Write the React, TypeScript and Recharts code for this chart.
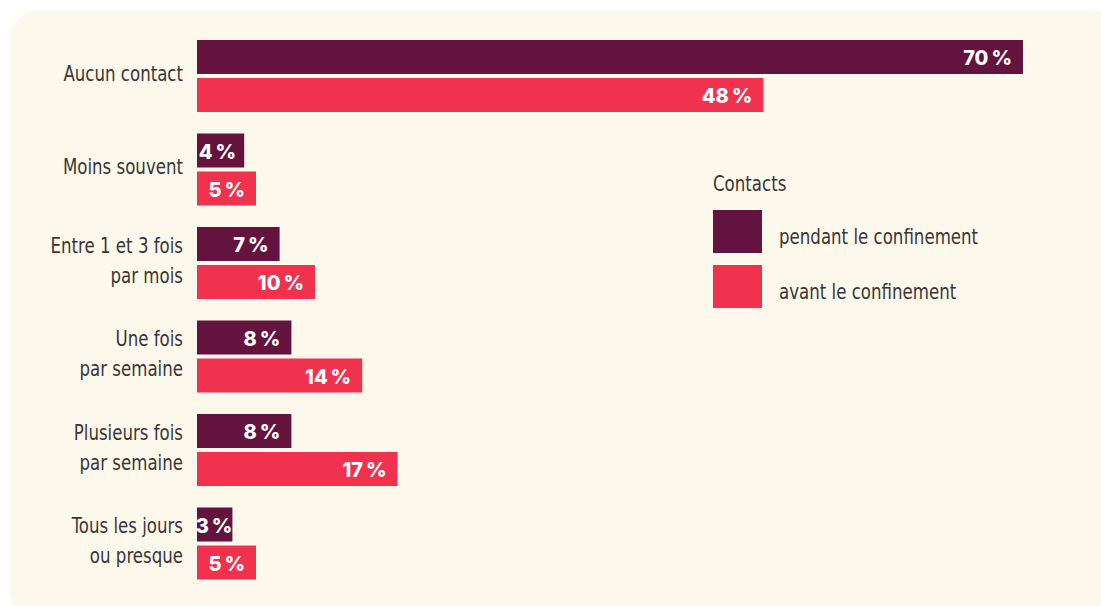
import { BarChart, Bar, XAxis, YAxis, LabelList } from 'recharts'

const categories = [
  'Aucun contact',
  'Moins souvent',
  'Entre 1 et 3 fois\npar mois',
  'Une fois\npar semaine',
  'Plusieurs fois\npar semaine',
  'Tous les jours\nou presque',
]
const pendant = [70, 4, 7, 8, 8, 3]
const avant = [48, 5, 10, 14, 17, 5]

const SERIES_LABEL = {
  pendant: 'pendant le confinement',
  avant: 'avant le confinement',
}
const LEGEND_TITLE = 'Contacts'

const DARK = '#63133d'
const PINK = '#f0324f'
const CREAM = '#fdf8ec'
const TEXT = '#3b3637'
const LABEL_FONT = '"Liberation Sans Narrow", "DejaVu Sans Condensed", sans-serif'
const VALUE_FONT = 'Inter, "Open Sans", sans-serif'
const SQUEEZE = 0.88

const data = categories.map((name, i) => ({ name, pendant: pendant[i], avant: avant[i] }))

function CategoryTick(props: any) {
  const { x, y, payload } = props
  const lines = String(payload.value).split('\n')
  const lh = 30
  const y0 = -((lines.length - 1) * lh) / 2 - 2
  return (
    <g transform={`translate(${x},${y}) scale(${SQUEEZE},1)`}>
      <text x={0} y={y0} textAnchor="end" fill={TEXT} fontFamily={LABEL_FONT} fontSize={21}>
        {lines.map((l, i) => (
          <tspan key={i} x={0} y={y0 + i * lh} dominantBaseline="central">
            {l}
          </tspan>
        ))}
      </text>
    </g>
  )
}

function ValueLabel(props: any) {
  const { x, y, width, height, value } = props
  const textW = String(value).length > 1 ? 48 : 36
  const pad = Math.max(0, Math.min(11, width - textW - 3))
  return (
    <text
      x={x + width - pad}
      y={y + height / 2 + 1}
      textAnchor="end"
      dominantBaseline="central"
      fill="#fff"
      fontFamily={VALUE_FONT}
      fontWeight={800}
      fontSize={20}
    >
      {`${value}\u202F%`}
    </text>
  )
}

function LegendBox() {
  const items = [
    { label: SERIES_LABEL.pendant, color: DARK },
    { label: SERIES_LABEL.avant, color: PINK },
  ]
  return (
    <div style={{ fontFamily: LABEL_FONT, color: TEXT, fontSize: 21 }}>
      <div
        style={{
          height: 28,
          lineHeight: '28px',
          marginBottom: 12,
          transform: `scaleX(${SQUEEZE})`,
          transformOrigin: 'left center',
        }}
      >
        {LEGEND_TITLE}
      </div>
      {items.map((it) => (
        <div key={it.label} style={{ display: 'flex', alignItems: 'center', height: 43, marginBottom: 12 }}>
          <div style={{ width: 49, height: 43, background: it.color, flexShrink: 0 }} />
          <div
            style={{
              marginLeft: 17,
              paddingTop: 10,
              whiteSpace: 'nowrap',
              transform: `scaleX(${SQUEEZE})`,
              transformOrigin: 'left center',
            }}
          >
            {it.label}
          </div>
        </div>
      ))}
    </div>
  )
}

export default function App() {
  return (
    <div style={{ position: 'fixed', left: 0, top: 0, width: 1101, height: 606, background: '#fff', overflow: 'hidden' }}>
      <div
        style={{
          position: 'absolute',
          left: 10,
          top: 10,
          width: 1110,
          height: 610,
          borderRadius: 30,
          background: CREAM,
        }}
      />
      <div style={{ position: 'absolute', left: 0, top: 0 }}>
        <BarChart
          width={1101}
          height={606}
          data={data}
          layout="vertical"
          margin={{ top: 29, right: 19, bottom: 16, left: 0 }}
          barSize={34}
          barGap={4}
        >
          <XAxis type="number" domain={[0, 75]} hide />
          <YAxis
            type="category"
            dataKey="name"
            width={197}
            axisLine={false}
            tickLine={false}
            tickSize={0}
            tickMargin={14}
            interval={0}
            tick={<CategoryTick />}
          />
          <Bar dataKey="pendant" name={SERIES_LABEL.pendant} fill={DARK} isAnimationActive={false}>
            <LabelList dataKey="pendant" content={<ValueLabel />} />
          </Bar>
          <Bar dataKey="avant" name={SERIES_LABEL.avant} fill={PINK} isAnimationActive={false}>
            <LabelList dataKey="avant" content={<ValueLabel />} />
          </Bar>
        </BarChart>
      </div>
      <div style={{ position: 'absolute', left: 713, top: 170, width: 340 }}>
        <LegendBox />
      </div>
    </div>
  )
}
